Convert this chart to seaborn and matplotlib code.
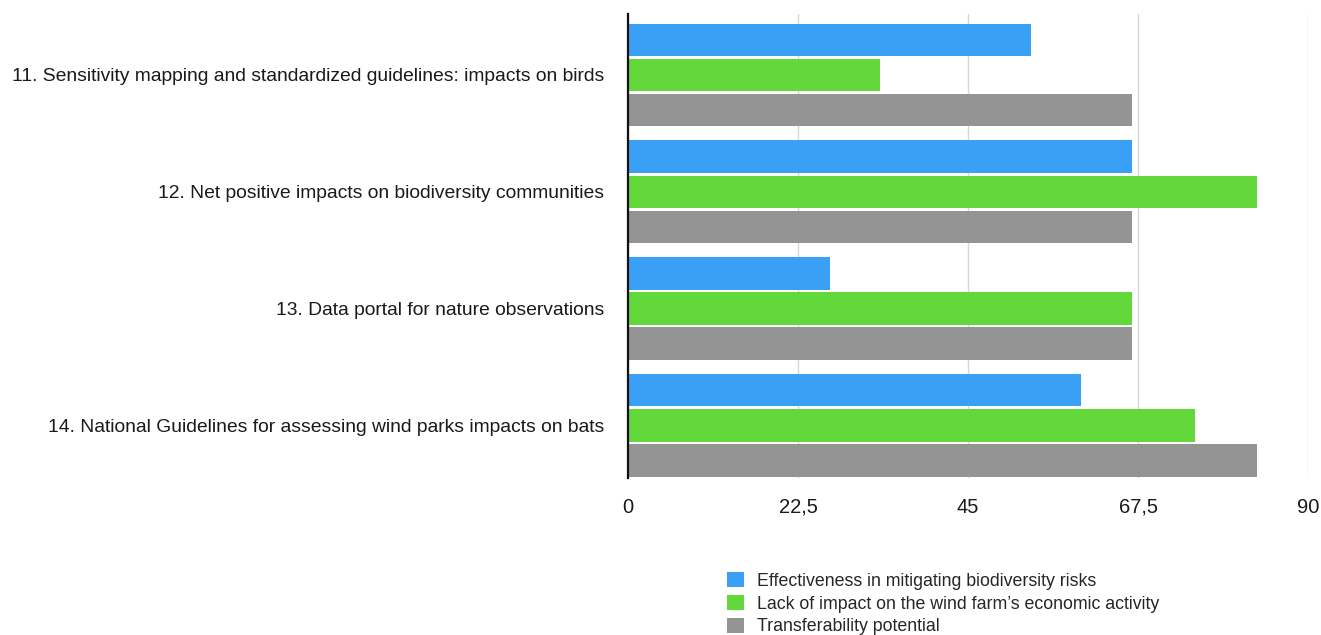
import matplotlib
matplotlib.use("Agg")
import matplotlib.pyplot as plt
from matplotlib.patches import Patch
import seaborn as sns
import pandas as pd

measures = [
    "11. Sensitivity mapping and standardized guidelines: impacts on birds",
    "12. Net positive impacts on biodiversity communities",
    "13. Data portal for nature observations",
    "14. National Guidelines for assessing wind parks impacts on bats",
]
criteria = [
    "Effectiveness in mitigating biodiversity risks",
    "Lack of impact on the wind farm\u2019s economic activity",
    "Transferability potential",
]
effectiveness = [53.3, 66.7, 26.7, 60.0]
economic_impact = [33.3, 83.3, 66.7, 75.0]
transferability = [66.7, 66.7, 66.7, 83.3]
tick_values = [0, 22.5, 45, 67.5, 90]
tick_labels = ["0", "22,5", "45", "67,5", "90"]
colors = ["#3aa0f6", "#62d83a", "#949494"]

rows = []
for series, vals in zip(criteria, [effectiveness, economic_impact, transferability]):
    for m, v in zip(measures, vals):
        rows.append({"measure": m, "criterion": series, "score": v})
df = pd.DataFrame(rows)

sns.set_theme(style="white")
plt.rcParams["font.family"] = ["Liberation Sans", "DejaVu Sans"]

fig = plt.figure(figsize=(13.21, 6.35), dpi=100)
ax = fig.add_axes([628 / 1321, 1 - 478 / 635, 680 / 1321, 464 / 635])

sns.barplot(
    data=df, y="measure", x="score", hue="criterion",
    order=measures, hue_order=criteria, palette=colors,
    orient="h", width=0.9, gap=0.08, saturation=1,
    linewidth=0, ax=ax, legend=False, zorder=3,
)

ax.set_xlim(0, 90)
ax.set_ylim(3.45, -0.52)
ax.set_xticks(tick_values)
ax.set_xticklabels(tick_labels, fontsize=14.5, color="#1a1a1a", va="baseline")
ax.tick_params(axis="x", length=0, pad=25)
ax.tick_params(axis="y", length=0, pad=17, labelsize=13.9, labelcolor="#1a1a1a")
ax.set_xlabel("")
ax.set_ylabel("")

ax.grid(axis="x", color="#d6d6d6", linewidth=1, zorder=0)
for side in ["top", "right", "bottom"]:
    ax.spines[side].set_visible(False)
ax.spines["left"].set_color("#111111")
ax.spines["left"].set_linewidth(1.6)
ax.spines["left"].set_zorder(5)

handles = [Patch(facecolor=c, edgecolor="none") for c in colors]
fig.legend(
    handles, criteria, loc="upper left",
    bbox_to_anchor=(720 / 1321, 1 - 565 / 635),
    frameon=False, fontsize=12.8, handlelength=0.95, handleheight=0.95,
    handletextpad=0.75, labelspacing=0.28, borderaxespad=0,
)

fig.savefig("out.png", dpi=100, facecolor="white")
